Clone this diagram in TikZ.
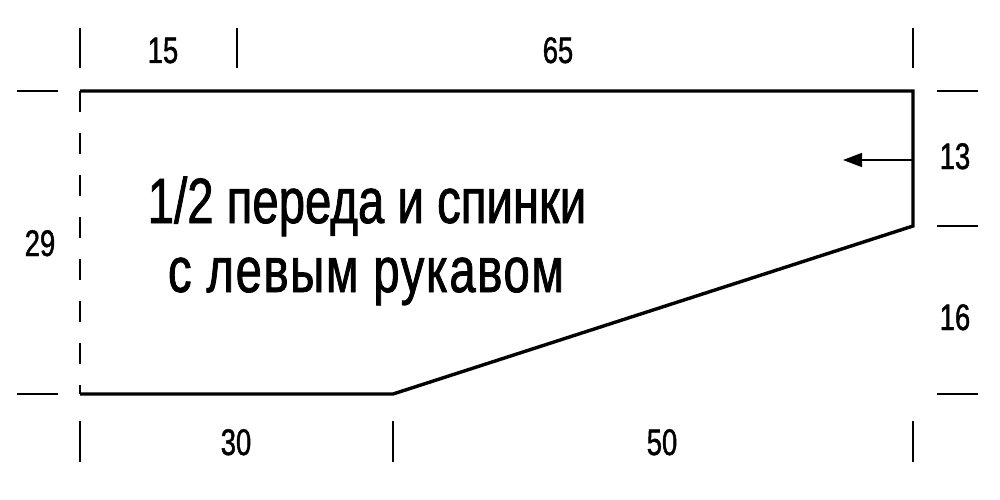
\documentclass[tikz,border=0pt]{standalone}
\usepackage{fontspec}
\setmainfont[FakeStretch=0.74,FakeBold=1.2]{Liberation Sans}
\usetikzlibrary{arrows.meta}
\begin{document}
\begin{tikzpicture}[x=1pt,y=-1pt,
  outline/.style={line width=3.4pt,line join=miter},
  foldline/.style={line width=2pt,dash pattern=on 21pt off 21pt},
  tick/.style={line width=1.8pt},
  dimlabel/.style={font=\fontsize{37}{40}\selectfont,anchor=base,inner sep=0pt},
  bigtext/.style={font=\fontsize{64}{72}\selectfont,anchor=base,inner sep=0pt}]
\useasboundingbox (0,0) rectangle (1000,500);
% shape corners
\coordinate (tl) at (80,91);
\coordinate (tr) at (913,91);
\coordinate (rb) at (913,226);
\coordinate (bm) at (393,394);
\coordinate (bl) at (80,394);
\draw[outline] (tl) -- (tr) -- (rb) -- (bm) -- (bl);
\draw[foldline] (tl) -- (bl);
% top ticks
\coordinate (t1a) at (80,28);  \coordinate (t1b) at (80,68);
\coordinate (t2a) at (237,28); \coordinate (t2b) at (237,68);
\coordinate (t3a) at (913,28); \coordinate (t3b) at (913,68);
\draw[tick] (t1a) -- (t1b);
\draw[tick] (t2a) -- (t2b);
\draw[tick] (t3a) -- (t3b);
% bottom ticks
\coordinate (b1a) at (80,421);  \coordinate (b1b) at (80,462);
\coordinate (b2a) at (393,421); \coordinate (b2b) at (393,462);
\coordinate (b3a) at (913,421); \coordinate (b3b) at (913,462);
\draw[tick] (b1a) -- (b1b);
\draw[tick] (b2a) -- (b2b);
\draw[tick] (b3a) -- (b3b);
% left ticks
\coordinate (l1a) at (17,91);  \coordinate (l1b) at (58,91);
\coordinate (l2a) at (17,394); \coordinate (l2b) at (58,394);
\draw[tick] (l1a) -- (l1b);
\draw[tick] (l2a) -- (l2b);
% right ticks
\coordinate (r1a) at (937,91);  \coordinate (r1b) at (978,91);
\coordinate (r2a) at (937,226); \coordinate (r2b) at (978,226);
\coordinate (r3a) at (937,394); \coordinate (r3b) at (978,394);
\draw[tick] (r1a) -- (r1b);
\draw[tick] (r2a) -- (r2b);
\draw[tick] (r3a) -- (r3b);
% arrow
\coordinate (as) at (913,160);
\coordinate (ae) at (843,160);
\draw[line width=1.5pt,-{Triangle[length=19pt,width=14pt]}] (as) -- (ae);
% dimension labels
\node[dimlabel] (d15) at (163,63) {15};
\node[dimlabel] (d65) at (558,63) {65};
\node[dimlabel] (d30) at (236,455) {30};
\node[dimlabel] (d50) at (662,455) {50};
\node[dimlabel] (d29) at (40,256) {29};
\node[dimlabel] (d13) at (955,169) {13};
\node[dimlabel] (d16) at (955,330) {16};
% title
\node[bigtext] (title1) at (367,223) {1/2 переда и спинки};
\node[bigtext] (title2) at (366,292) {\addfontfeature{LetterSpace=2.5}с левым рукавом};
\end{tikzpicture}
\end{document}
